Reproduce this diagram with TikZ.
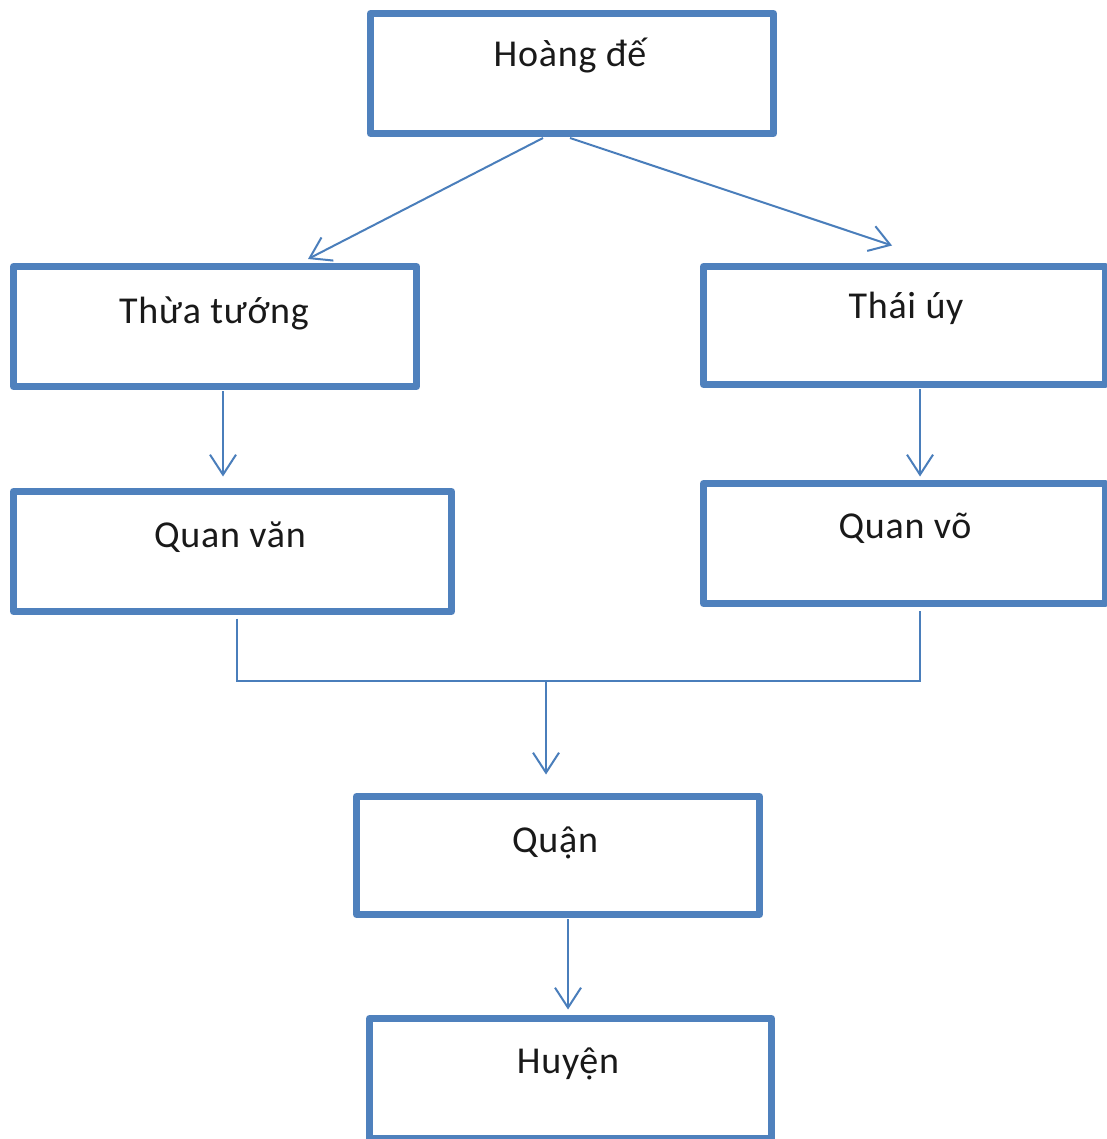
\documentclass[tikz,border=0pt]{standalone}
\usepackage{fontspec}
\setmainfont{Carlito}[LetterSpace=2]
\usetikzlibrary{arrows.meta,calc}
\definecolor{boxblue}{RGB}{79,129,189}
\definecolor{linkblue}{RGB}{74,126,187}
\definecolor{txt}{RGB}{25,25,25}
\begin{document}
\begin{tikzpicture}[x=1pt,y=-1pt,
  box/.style={draw=boxblue, line width=7pt, rectangle, inner sep=0pt, line join=round},
  lbl/.style={anchor=base, inner sep=0pt, font=\fontsize{38}{44}\selectfont, text=txt},
  conn/.style={draw=linkblue, line width=2pt},
  arr/.style={conn, -{Straight Barb[length=20pt,width=26pt]}}]
\fill[white] (0,0) rectangle (1106,1139);
\useasboundingbox (0,0) rectangle (1106,1139);
% boxes
\node[box, minimum width=403pt, minimum height=120pt] (hoang) at (572,73.5) {};
\node[box, minimum width=403pt, minimum height=120pt] (thua)  at (215,326.5) {};
\node[box, minimum width=402pt, minimum height=118pt] (thai)  at (904.5,325.5) {};
\node[box, minimum width=438pt, minimum height=120pt] (van)   at (232.5,551.5) {};
\node[box, minimum width=402pt, minimum height=120pt] (vo)    at (904.5,543.5) {};
\node[box, minimum width=403pt, minimum height=118pt] (quan)  at (558,855.5) {};
\node[box, minimum width=402pt, minimum height=120pt] (huyen) at (570.5,1078.5) {};
% labels
\node[lbl] (thoang) at (570,67)   {Hoàng đế};
\node[lbl] (tthua)  at (214,323)  {Thừa tướng};
\node[lbl] (tthai)  at (906,318)  {Thái úy};
\node[lbl] (tvan)   at (230,547)  {Quan văn};
\node[lbl] (tvo)    at (905,538)  {Quan võ};
\node[lbl] (tquan)  at (555,852)  {Quận};
\node[lbl] (thuyen) at (568,1073) {Huyện};
% connectors
\draw[arr] ($(hoang.south)+(-29,1)$) -- ($(thua.north)+(93,-4)$);
\draw[arr] ($(hoang.south)+(-2,1)$) -- ($(thai.north)+(-12.5,-17.5)$);
\draw[arr] ($(thua.south)+(8,1)$) -- ($(van.north)+(-9.5,-11.5)$);
\draw[arr] ($(thai.south)+(15.5,1)$) -- ($(vo.north)+(15.5,-3.5)$);
\coordinate (vanout) at ($(van.south)+(4.5,3.5)$);
\coordinate (voout) at ($(vo.south)+(15.5,3.5)$);
\coordinate (join) at (546,681);
\draw[conn] (vanout) |- (join) -| (voout);
\draw[arr] (join) -- ($(quan.north)+(-12,-18.5)$);
\draw[arr] ($(quan.south)+(10,1)$) -- ($(huyen.north)+(-2.5,-5.5)$);
\end{tikzpicture}
\end{document}
